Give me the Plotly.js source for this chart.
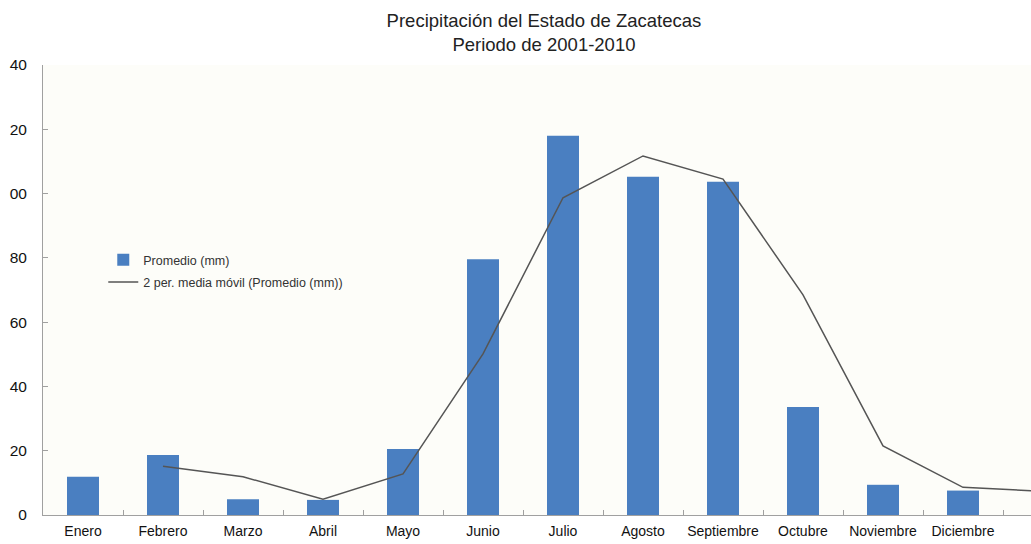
<!DOCTYPE html>
<html>
<head>
<meta charset="utf-8">
<script src="https://cdn.plot.ly/plotly-3.0.1.min.js"></script>
<style>html,body{margin:0;padding:0;background:#fff;}#chart{width:1031px;height:544px;}</style>
</head>
<body>
<div id="chart"></div>
<script>
// Categories (the 13th, unlabeled, lies beyond the cropped right edge)
const months = ["Enero","Febrero","Marzo","Abril","Mayo","Junio","Julio","Agosto","Septiembre","Octubre","Noviembre","Diciembre"," "];
// Promedio (mm)
const promedio = [11.9, 18.7, 4.9, 4.7, 20.5, 79.6, 118.0, 105.2, 103.7, 33.6, 9.4, 7.6, null];
// 2 per. media móvil (Promedio (mm))
const mediaMovil = [null, 15.2, 11.9, 4.9, 12.8, 50.1, 98.7, 111.7, 104.5, 68.5, 21.5, 8.6, 7.4];
// Y tick values and the labels as visible in the (cropped) picture
const yTickVals = [0, 20, 40, 60, 80, 100, 120, 140];
const yTickText = ["0", "20", "40", "60", "80", "00", "20", "40"];

const traces = [
  {
    type: "bar",
    name: "Promedio (mm)",
    x: months,
    y: promedio,
    width: 0.4,
    marker: {color: "#4a7fc1"},
    legendgroup: "a",
    hoverinfo: "x+y"
  },
  {
    type: "scatter",
    mode: "lines",
    name: "2 per. media móvil (Promedio (mm))",
    x: months,
    y: mediaMovil,
    line: {color: "#555555", width: 1.5},
    legendgroup: "b",
    connectgaps: false
  }
];

const layout = {
  width: 1031,
  height: 544,
  margin: {l: 43, r: 0, t: 65, b: 29, pad: 0},
  paper_bgcolor: "#ffffff",
  plot_bgcolor: "#fdfdf9",
  font: {family: "Liberation Sans, Arial, sans-serif", color: "#222"},
  title: {
    text: "Precipitación del Estado de Zacatecas<br>Periodo de 2001-2010",
    x: 0.5276,
    xanchor: "center",
    xref: "container",
    yref: "container",
    y: 1,
    yanchor: "top",
    pad: {t: 27},
    font: {size: 18.5, color: "#222"}
  },
  showlegend: true,
  legend: {
    x: 0.061,
    y: 0.60,
    xanchor: "left",
    yanchor: "top",
    traceorder: "grouped",
    tracegroupgap: 3,
    bgcolor: "rgba(0,0,0,0)",
    font: {size: 12.5, color: "#333"}
  },
  xaxis: {
    type: "category",
    range: [-0.5, 11.85],
    showgrid: false,
    zeroline: false,
    showline: true,
    linecolor: "#a0a0a0",
    linewidth: 1,
    ticks: "inside",
    ticklen: 5,
    tickcolor: "#a0a0a0",
    tickson: "boundaries",
    tickangle: 0,
    tickfont: {size: 14, color: "#111"},
    ticklabelstandoff: 3,
    fixedrange: true
  },
  yaxis: {
    range: [0, 140],
    tickvals: yTickVals,
    ticktext: yTickText,
    showgrid: false,
    zeroline: false,
    showline: true,
    linecolor: "#a0a0a0",
    linewidth: 1,
    ticks: "inside",
    ticklen: 5,
    tickcolor: "#a0a0a0",
    tickfont: {size: 15.5, color: "#111"},
    ticklabelstandoff: 12,
    fixedrange: true
  },
  bargap: 0.6
};

Plotly.newPlot("chart", traces, layout, {displayModeBar: false, staticPlot: true});
</script>
</body>
</html>
